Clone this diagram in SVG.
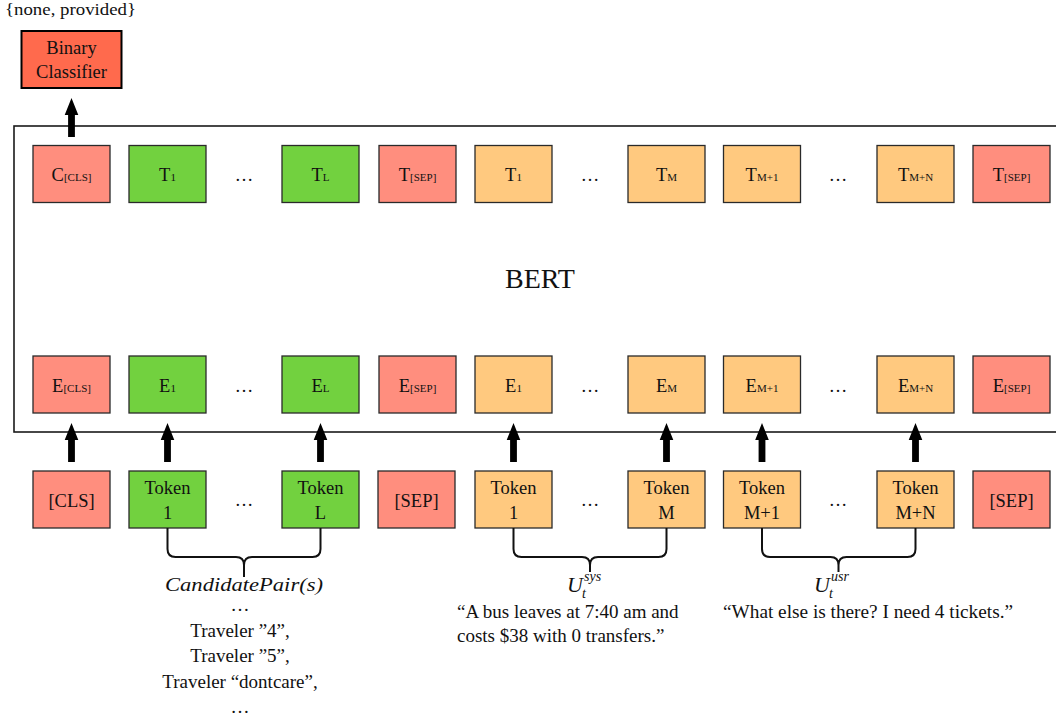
<svg xmlns="http://www.w3.org/2000/svg" width="1056" height="722" viewBox="0 0 1056 722">
  <style>
    .box { stroke: #2a2a2a; stroke-width: 1.3; }
    .salmon { fill: #FF8E7E; }
    .green { fill: #72D13F; }
    .orange { fill: #FFC97F; }
    .cls { fill: #FF6A4D; stroke: #000; stroke-width: 2; }
    .frame { fill: none; stroke: #1a1a1a; stroke-width: 1.6; }
    text { font-family: "Liberation Serif", "DejaVu Serif", serif; fill: #111; }
    .lbl { font-size: 18.5px; text-anchor: middle; }
    .sub { font-size: 11px; }
    .big { font-size: 28px; text-anchor: middle; }
    .note { font-size: 19px; text-anchor: middle; }
    .note-l { font-size: 19px; }
    .math { font-style: italic; }
    .sym { font-size: 22px; font-style: italic; }
    .scr { font-size: 14px; font-style: italic; }
    .brace { fill: none; stroke: #111; stroke-width: 2; }
  </style>
  <defs>
    <!-- thick block arrow, origin at the tail centre, pointing up -->
    <path id="up" d="M-3.4,0 V-22 H-6.8 L0,-39 L6.8,-22 H3.4 V0 Z" fill="#000"/>
  </defs>

  <rect width="1056" height="722" fill="#fff"/>

  <!-- output label and classifier -->
  <text x="5" y="15" font-size="17" textLength="131" lengthAdjust="spacingAndGlyphs">{none, provided}</text>
  <g id="binary-classifier">
    <rect class="cls" x="21.5" y="31" width="100" height="57"/>
    <text class="lbl" x="71.5" y="54">Binary</text>
    <text class="lbl" x="71.5" y="78">Classifier</text>
  </g>

  <!-- encoder frame -->
  <g id="bert">
    <rect class="frame" x="14" y="126" width="1060" height="306"/>
    <text class="big" x="540" y="288">BERT</text>
  </g>

  <!-- output vectors -->
  <g id="t-cls"><rect class="box salmon" x="33" y="145.5" width="77" height="57"/><text class="lbl" x="71.5" y="181">C<tspan class="sub">[CLS]</tspan></text></g>
  <g id="t-1a"><rect class="box green" x="129" y="145.5" width="77" height="57"/><text class="lbl" x="167.5" y="181">T<tspan class="sub">1</tspan></text></g>
  <g id="t-l"><rect class="box green" x="282" y="145.5" width="77" height="57"/><text class="lbl" x="320.5" y="181">T<tspan class="sub">L</tspan></text></g>
  <g id="t-sep1"><rect class="box salmon" x="379" y="145.5" width="77" height="57"/><text class="lbl" x="417.5" y="181">T<tspan class="sub">[SEP]</tspan></text></g>
  <g id="t-1b"><rect class="box orange" x="475" y="145.5" width="77" height="57"/><text class="lbl" x="513.5" y="181">T<tspan class="sub">1</tspan></text></g>
  <g id="t-m"><rect class="box orange" x="628" y="145.5" width="77" height="57"/><text class="lbl" x="666.5" y="181">T<tspan class="sub">M</tspan></text></g>
  <g id="t-m1"><rect class="box orange" x="723.5" y="145.5" width="77" height="57"/><text class="lbl" x="762" y="181">T<tspan class="sub">M+1</tspan></text></g>
  <g id="t-mn"><rect class="box orange" x="877" y="145.5" width="77" height="57"/><text class="lbl" x="915.5" y="181">T<tspan class="sub">M+N</tspan></text></g>
  <g id="t-sep2"><rect class="box salmon" x="973" y="145.5" width="77" height="57"/><text class="lbl" x="1011.5" y="181">T<tspan class="sub">[SEP]</tspan></text></g>
  <text class="lbl" x="244" y="181">…</text>
  <text class="lbl" x="590" y="181">…</text>
  <text class="lbl" x="838" y="181">…</text>

  <!-- input embeddings -->
  <g id="e-cls"><rect class="box salmon" x="33" y="356" width="77" height="57"/><text class="lbl" x="71.5" y="391.5">E<tspan class="sub">[CLS]</tspan></text></g>
  <g id="e-1a"><rect class="box green" x="129" y="356" width="77" height="57"/><text class="lbl" x="167.5" y="391.5">E<tspan class="sub">1</tspan></text></g>
  <g id="e-l"><rect class="box green" x="282" y="356" width="77" height="57"/><text class="lbl" x="320.5" y="391.5">E<tspan class="sub">L</tspan></text></g>
  <g id="e-sep1"><rect class="box salmon" x="379" y="356" width="77" height="57"/><text class="lbl" x="417.5" y="391.5">E<tspan class="sub">[SEP]</tspan></text></g>
  <g id="e-1b"><rect class="box orange" x="475" y="356" width="77" height="57"/><text class="lbl" x="513.5" y="391.5">E<tspan class="sub">1</tspan></text></g>
  <g id="e-m"><rect class="box orange" x="628" y="356" width="77" height="57"/><text class="lbl" x="666.5" y="391.5">E<tspan class="sub">M</tspan></text></g>
  <g id="e-m1"><rect class="box orange" x="723.5" y="356" width="77" height="57"/><text class="lbl" x="762" y="391.5">E<tspan class="sub">M+1</tspan></text></g>
  <g id="e-mn"><rect class="box orange" x="877" y="356" width="77" height="57"/><text class="lbl" x="915.5" y="391.5">E<tspan class="sub">M+N</tspan></text></g>
  <g id="e-sep2"><rect class="box salmon" x="973" y="356" width="77" height="57"/><text class="lbl" x="1011.5" y="391.5">E<tspan class="sub">[SEP]</tspan></text></g>
  <text class="lbl" x="244" y="391.5">…</text>
  <text class="lbl" x="590" y="391.5">…</text>
  <text class="lbl" x="838" y="391.5">…</text>

  <!-- input tokens -->
  <g id="tok-cls"><rect class="box salmon" x="33" y="471" width="77" height="57"/><text class="lbl" x="71.5" y="506.5">[CLS]</text></g>
  <g id="tok-1a"><rect class="box green" x="129" y="471" width="77" height="57"/><text class="lbl" x="167.5" y="494">Token</text><text class="lbl" x="167.5" y="519">1</text></g>
  <g id="tok-l"><rect class="box green" x="282" y="471" width="77" height="57"/><text class="lbl" x="320.5" y="494">Token</text><text class="lbl" x="320.5" y="519">L</text></g>
  <g id="tok-sep1"><rect class="box salmon" x="378" y="471" width="77" height="57"/><text class="lbl" x="416.5" y="506.5">[SEP]</text></g>
  <g id="tok-1b"><rect class="box orange" x="475" y="471" width="77" height="57"/><text class="lbl" x="513.5" y="494">Token</text><text class="lbl" x="513.5" y="519">1</text></g>
  <g id="tok-m"><rect class="box orange" x="628" y="471" width="77" height="57"/><text class="lbl" x="666.5" y="494">Token</text><text class="lbl" x="666.5" y="519">M</text></g>
  <g id="tok-m1"><rect class="box orange" x="723.5" y="471" width="77" height="57"/><text class="lbl" x="762" y="494">Token</text><text class="lbl" x="762" y="519">M+1</text></g>
  <g id="tok-mn"><rect class="box orange" x="877" y="471" width="77" height="57"/><text class="lbl" x="915.5" y="494">Token</text><text class="lbl" x="915.5" y="519">M+N</text></g>
  <g id="tok-sep2"><rect class="box salmon" x="973" y="471" width="77" height="57"/><text class="lbl" x="1011.5" y="506.5">[SEP]</text></g>
  <text class="lbl" x="244" y="506">…</text>
  <text class="lbl" x="590" y="506">…</text>
  <text class="lbl" x="838" y="506">…</text>

  <!-- connectors: block arrows and grouping braces -->
  <g id="connectors">
    <use href="#up" x="71.5" y="137"/>
    <use href="#up" x="71.5" y="462"/>
    <use href="#up" x="167.5" y="462"/>
    <use href="#up" x="320.5" y="462"/>
    <use href="#up" x="513.5" y="462"/>
    <use href="#up" x="666.5" y="462"/>
    <use href="#up" x="762" y="462"/>
    <use href="#up" x="915.5" y="462"/>
    <path class="brace" d="M167.5,528 V549 Q167.5,557 175.5,557 H236 Q244,557 244,565 V577 M244,565 Q244,557 252,557 H312.5 Q320.5,557 320.5,549 V528"/>
    <path class="brace" d="M513.5,528 V549 Q513.5,557 521.5,557 H582 Q590,557 590,565 V572 M590,565 Q590,557 598,557 H658.5 Q666.5,557 666.5,549 V528"/>
    <path class="brace" d="M762,528 V549 Q762,557 770,557 H830.5 Q838.5,557 838.5,565 V572 M838.5,565 Q838.5,557 846.5,557 H907.5 Q915.5,557 915.5,549 V528"/>
  </g>

  <!-- candidate pair annotation -->
  <text class="note math" x="244" y="591" textLength="158" lengthAdjust="spacingAndGlyphs">CandidatePair(s)</text>
  <text class="note" x="240" y="611">…</text>
  <text class="note" x="240" y="637">Traveler ”4”,</text>
  <text class="note" x="240" y="662">Traveler ”5”,</text>
  <text class="note" x="240" y="688">Traveler “dontcare”,</text>
  <text class="note" x="240" y="713">…</text>

  <!-- system utterance -->
  <text class="sym" x="567" y="592">U</text>
  <text class="scr" x="584" y="581">sys</text>
  <text class="scr" x="582" y="598">t</text>
  <text class="note-l" x="457" y="618">“A bus leaves at 7:40 am and</text>
  <text class="note-l" x="457" y="642">costs $38 with 0 transfers.”</text>

  <!-- user utterance -->
  <text class="sym" x="814" y="592">U</text>
  <text class="scr" x="831" y="581">usr</text>
  <text class="scr" x="829" y="598">t</text>
  <text class="note-l" x="723" y="618" textLength="290" lengthAdjust="spacingAndGlyphs">“What else is there? I need 4 tickets.”</text>
</svg>
